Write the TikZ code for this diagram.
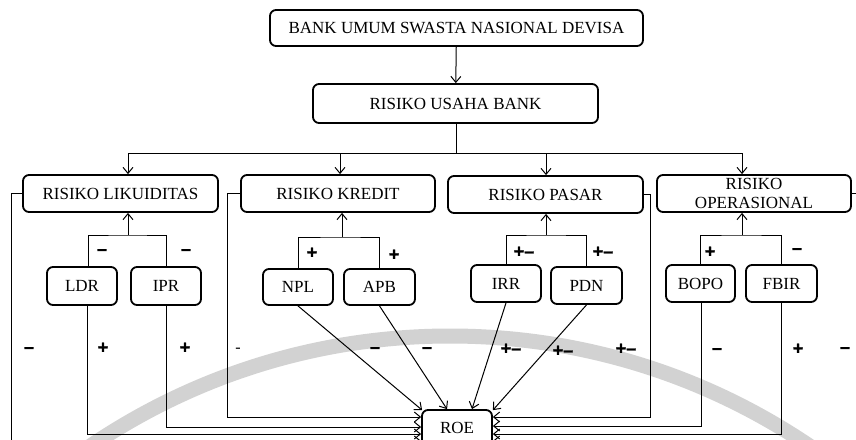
\documentclass[tikz,border=0pt]{standalone}
\usepackage{fontspec}
\setmainfont{Liberation Serif}
\newfontfamily\signfont[Ligatures=TeX,UprightFont=*-Bold,UprightFeatures={FakeBold=1.4}]{Liberation Sans}
\usetikzlibrary{arrows.meta,calc}
\tikzset{
  bx/.style={draw, line width=1.8pt, rounded corners=6pt, inner sep=0pt,
    font=\fontsize{17}{18.5}\selectfont, align=center},
  conn/.style={line width=1pt, -{Straight Barb[length=6pt,width=10pt,line width=1pt]}},
  ln/.style={line width=1pt},
  sgn/.style={font=\signfont\fontsize{18}{18}\selectfont, inner sep=0pt},
  wm/.style={draw=gray!35, line width=15pt}
}
\newcommand{\bxnode}[6]{\node[bx, minimum width={#4-#2}, minimum height={#5-#3}] (#1) at ({(#2+#4)/2},{(#3+#5)/2}) {#6};}
\begin{document}
\begin{tikzpicture}[x=1pt,y=-1pt]
\clip (0,0) rectangle (856,439);
\fill[white] (0,0) rectangle (856,439);
% watermark arc
\draw[wm] (450,978) circle[radius=642pt];
% boxes
\bxnode{bank}{270}{10}{643}{46}{BANK UMUM SWASTA NASIONAL DEVISA}
\bxnode{usaha}{313}{84}{598}{123}{RISIKO USAHA BANK}
\bxnode{lik}{23}{175}{218}{212}{RISIKO LIKUIDITAS}
\bxnode{kre}{241}{175}{435}{212}{RISIKO KREDIT}
\bxnode{pas}{448}{176}{643}{213}{RISIKO PASAR}
\bxnode{ope}{657}{175}{851}{212}{RISIKO\\OPERASIONAL}
\bxnode{ldr}{47}{267}{117}{305}{LDR}
\bxnode{ipr}{131}{267}{201}{305}{IPR}
\bxnode{npl}{263}{269}{333}{305}{NPL}
\bxnode{apb}{344}{269}{415}{305}{APB}
\bxnode{irr}{471}{265}{541}{302}{IRR}
\bxnode{pdn}{551}{267}{622}{304}{PDN}
\bxnode{bopo}{666}{265}{735}{302}{BOPO}
\bxnode{fbir}{746}{265}{817}{302}{FBIR}
\bxnode{roe}{422}{410}{492}{446}{ROE}
% top connectors
\draw[conn] (bank) -- (usaha);
\coordinate (hm) at (456,153);
\coordinate (hL) at (128,153);
\coordinate (hK) at (340,153);
\coordinate (hP) at (546,153);
\coordinate (hR) at (742,153);
\draw[ln] (usaha.south -| hm) -- (hm);
\draw[ln] (hL) -- (hR);
\draw[conn] (hL) -- (hL |- lik.north);
\draw[conn] (hK) -- (hK |- kre.north);
\draw[conn] (hP) -- (hP |- pas.north);
\draw[conn] (hR) -- (hR |- ope.north);
% brackets
\coordinate (bL) at (128,235);
\coordinate (bK) at (342,237);
\coordinate (bP) at (546,235);
\coordinate (bO) at (742,235);
\draw[conn] (bL) -- (bL |- lik.south);
\draw[conn] (bK) -- (bK |- kre.south);
\draw[conn] (bP) -- (bP |- pas.south);
\draw[conn] (bO) -- (bO |- ope.south);
\draw[ln] ([xshift=6pt]ldr.north) |- (bL) -| (ipr.north);
\draw[ln] (npl.north) |- (bK) -| (apb.north);
\draw[ln] (irr.north) |- (bP) -| (pdn.north);
\draw[ln] (bopo.north) |- (bO) -| (fbir.north);
% connectors to ROE
\draw[conn] (lik.west) -- ++(-11,0) |- ([yshift=-13pt]roe.west);
\draw[conn] (kre.west) -- ++(-13,0) |- ([yshift=11pt]roe.west);
\draw[conn] ([xshift=5pt]ldr.south) |- ([yshift=-6pt]roe.west);
\draw[conn] (ipr.south) |- ([yshift=1pt]roe.west);
\draw[conn] (npl.south) -- ([shift={(1,1)}]roe.north west);
\draw[conn] (apb.south) -- ([xshift=-10pt]roe.north);
\draw[conn] (irr.south) -- ([xshift=15pt]roe.north);
\draw[conn] (pdn.south) -- ([shift={(0,1)}]roe.north east);
\draw[conn] (pas.east) -- ++(7,0) |- ([yshift=11pt]roe.east);
\draw[conn] ([xshift=1pt]bopo.south) |- ([yshift=2pt]roe.east);
\draw[conn] (fbir.south) |- ([yshift=-6pt]roe.east);
\draw[conn] (ope.east) -- ++(10,0) |- ([yshift=-13pt]roe.east);
% signs on brackets
\node[sgn] (s1) at (102,252) {–};
\node[sgn] (s2) at (186,252) {–};
\node[sgn] (s3) at (312,253) {+};
\node[sgn] (s4) at (394,255) {+};
\node[sgn] (s5) at (524,252) {+–};
\node[sgn] (s6) at (603,252) {+–};
\node[sgn] (s7) at (710,252) {+};
\node[sgn] (s8) at (797,251) {–};
% signs lower row
\node[sgn] (t1) at (29,350) {–};
\node[sgn] (t2) at (103,348) {+};
\node[sgn] (t3) at (185,348) {+};
\node[inner sep=0pt, font=\fontsize{16}{16}\selectfont] (t4) at (238,350) {-};
\node[sgn] (t5) at (375,350) {–};
\node[sgn] (t6) at (427,350) {–};
\node[sgn] (t7) at (511,349) {+–};
\node[sgn] (t8) at (563,351) {+–};
\node[sgn] (t9) at (626,349) {+–};
\node[sgn] (t10) at (717,351) {–};
\node[sgn] (t11) at (798,349) {+};
\node[sgn] (t12) at (845,350) {–};
\end{tikzpicture}
\end{document}
